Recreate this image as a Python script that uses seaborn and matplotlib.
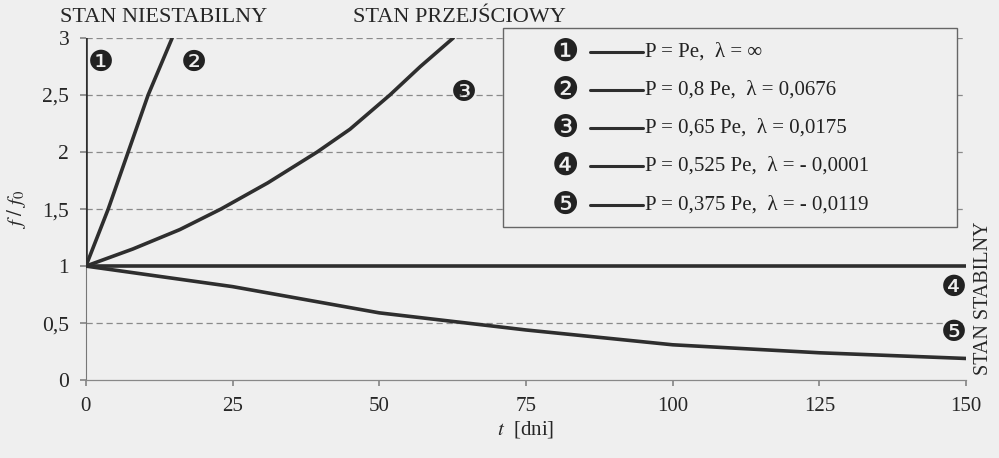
import matplotlib
matplotlib.use("Agg")
import matplotlib.pyplot as plt
import seaborn as sns
import pandas as pd
from matplotlib.patches import Rectangle
from matplotlib.lines import Line2D

# ---- data ----
t1 = [0, 0]
y1 = [1, 3]
t2 = [0, 3.8, 7.2, 10.6, 14.7]
y2 = [1, 1.5, 2.0, 2.5, 3.0]
t3 = [0, 8, 16, 23, 31, 39.4, 45, 51.8, 57, 62.6]
y3 = [1, 1.15, 1.32, 1.5, 1.73, 2.0, 2.2, 2.5, 2.75, 3.0]
t4 = [0, 150]
y4 = [1, 1]
t5 = [0, 25, 50, 75, 100, 125, 150]
y5 = [1, 0.82, 0.59, 0.44, 0.31, 0.24, 0.19]

series_ids = ["❶", "❷", "❸", "❹", "❺"]
legend_labels = ["P = Pe,  λ = ∞",
                 "P = 0,8 Pe,  λ = 0,0676",
                 "P = 0,65 Pe,  λ = 0,0175",
                 "P = 0,525 Pe,  λ = - 0,0001",
                 "P = 0,375 Pe,  λ = - 0,0119"]
x_ticks = [0, 25, 50, 75, 100, 125, 150]
y_ticks = [0, 0.5, 1, 1.5, 2, 2.5, 3]
y_tick_labels = ["0", "0,5", "1", "1,5", "2", "2,5", "3"]

sns.set_theme(style="white")
plt.rcParams['font.family'] = ['Liberation Serif', 'DejaVu Sans']
plt.rcParams['mathtext.fontset'] = 'stix'

BG = "#efefef"
LC = "#2e2e2e"
fig = plt.figure(figsize=(9.99, 4.58), dpi=100, facecolor=BG)
ax = fig.add_axes([0.086, 0.17, 0.881, 0.747])
ax.set_facecolor(BG)

frames = []
for i, (t, y) in enumerate([(t1, y1), (t2, y2), (t3, y3), (t4, y4), (t5, y5)]):
    frames.append(pd.DataFrame({"t": t, "y": y, "s": series_ids[i]}))
df = pd.concat(frames, ignore_index=True)

# gridlines
for yv in [0.5, 1.5, 2, 2.5, 3]:
    ax.axhline(yv, color="#8a8a8a", lw=0.9, ls=(0, (5, 3)), zorder=1)

sns.lineplot(data=df, x="t", y="y", units="s", estimator=None, sort=False,
             color=LC, lw=2.6, ax=ax, zorder=3)

ax.set_xlim(0, 150)
ax.set_ylim(0, 3)
ax.set_xticks(x_ticks)
ax.set_xticklabels([str(v) for v in x_ticks], fontsize=15)
ax.set_yticks(y_ticks)
ax.set_yticklabels(y_tick_labels, fontsize=15.5)
ax.tick_params(axis="both", length=4, color="#888888", pad=8, direction="out",
               bottom=True, left=True)
for sp in ["top", "right"]:
    ax.spines[sp].set_visible(False)
ax.spines["left"].set_color("#777777")
ax.spines["left"].set_linewidth(0.8)
ax.spines["bottom"].set_color("#888888")
ax.spines["bottom"].set_linewidth(0.9)
ax.set_xlabel(r"$t$  [dni]", fontsize=15, labelpad=2)
ax.set_ylabel(r"$f\ /\ f_0$", fontsize=15, labelpad=10)

# series numbers
num_pos = [(2.6, 2.78), (18.4, 2.78), (64.5, 2.52), (148, 0.81), (148, 0.41)]
for s, (x, y) in zip(series_ids, num_pos):
    ax.text(x, y, s, fontsize=21, color="#222222", ha="center", va="center",
            family=["DejaVu Sans"], zorder=5)

# region labels
fig.text(60 / 999, 1 - 17 / 458, "STAN NIESTABILNY", fontsize=16, va="center", ha="left")
fig.text(353 / 999, 1 - 17 / 458, "STAN PRZEJŚCIOWY", fontsize=16, va="center", ha="left")
fig.text(984 / 999, 1 - 298 / 458, "STAN STABILNY", fontsize=14.5, va="center", ha="center",
         rotation=90)

# legend box (manual)
def px2ax(px, py):
    x0, x1 = 86, 966
    y0, y1_ = 380, 38
    return (px - x0) / (x1 - x0), (py - y0) / (y1_ - y0)

bx0, by0 = px2ax(503, 227)
bx1, by1 = px2ax(957, 28)
ax.add_patch(Rectangle((bx0, by0), bx1 - bx0, by1 - by0, transform=ax.transAxes,
                       facecolor=BG, edgecolor="#666666", lw=1.0, zorder=6, clip_on=False))
rows_py = [52, 90, 128, 166, 205]
for s, lab, py in zip(series_ids, legend_labels, rows_py):
    nx, ny = px2ax(565, py)
    ax.text(nx, ny, s, transform=ax.transAxes, fontsize=22, ha="center", va="center",
            family=["DejaVu Sans"], color="#222222", zorder=7)
    lx0, _ = px2ax(590, py)
    lx1, _ = px2ax(643, py)
    ax.add_line(Line2D([lx0, lx1], [ny, ny], transform=ax.transAxes, color=LC, lw=2.2,
                       zorder=7, clip_on=False))
    tx, _ = px2ax(645, py)
    ax.text(tx, ny, lab, transform=ax.transAxes, fontsize=15, ha="left", va="center",
            color="#222222", zorder=7)

fig.savefig("out.png", dpi=100, facecolor=BG)
